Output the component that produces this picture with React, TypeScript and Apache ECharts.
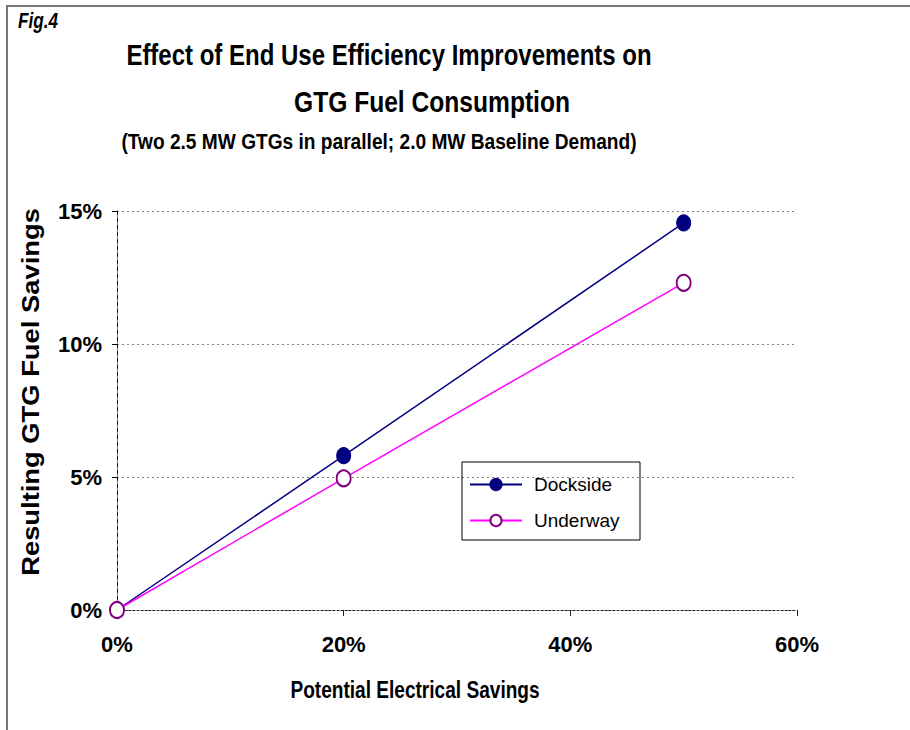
import React, { useEffect, useRef } from "react";
import * as echarts from "echarts";

const xTicks = [0, 20, 40, 60];
const yTicks = [0, 5, 10, 15];
const seriesNames = ["Dockside", "Underway"];
const xValues = [0, 20, 50];
const docksideValues = [0, 5.8, 14.55];
const underwayValues = [0, 4.95, 12.3];

const titleLine1 = "Effect of End Use Efficiency Improvements on";
const titleLine2 = "GTG Fuel Consumption";
const subtitle = "(Two 2.5 MW GTGs in parallel; 2.0 MW Baseline Demand)";
const figLabel = "Fig.4";
const xName = "Potential Electrical Savings";
const yName = "Resulting GTG Fuel Savings";

const FONT = '"Liberation Sans Narrow", "Arial Narrow", "Liberation Sans", Arial, sans-serif';

export default function App() {
  const ref = useRef<HTMLDivElement>(null);
  useEffect(() => {
    if (!ref.current) return;
    const chart = echarts.init(ref.current, null, { renderer: "svg" });
    const pts = (vals: number[]) => xValues.map((x, i) => [x, vals[i]]);
    chart.setOption({
      animation: false,
      backgroundColor: "#fff",
      textStyle: { fontFamily: FONT },
      grid: { left: 117, top: 211, right: 113, bottom: 120, containLabel: false },
      xAxis: {
        type: "value",
        min: xTicks[0],
        max: xTicks[xTicks.length - 1],
        interval: 20,
        axisLine: { show: true, lineStyle: { color: "#222", width: 1, type: [2, 2] } },
        axisTick: { show: true, length: 6, inside: false, lineStyle: { color: "#222" } },
        axisLabel: {
          margin: 23,
          fontSize: 22,
          fontWeight: "bold",
          color: "#000",
          fontFamily: FONT,
          formatter: (v: number) => `${v}%`,
        },
        splitLine: { show: false },
      },
      yAxis: [
        {
          type: "value",
          min: yTicks[0],
          max: yTicks[yTicks.length - 1],
          interval: 5,
          axisLine: { show: true, onZero: false, lineStyle: { color: "#000", width: 1 } },
          axisTick: { show: true, length: 5, lineStyle: { color: "#000" } },
          axisLabel: {
            margin: 15,
            fontSize: 22,
            fontWeight: "bold",
            color: "#000",
            fontFamily: FONT,
            formatter: (v: number) => `${v}%`,
          },
          splitLine: { show: true, lineStyle: { color: "#808080", type: [2, 3], width: 1 } },
        },
        {
          type: "value",
          position: "right",
          min: yTicks[0],
          max: yTicks[yTicks.length - 1],
          interval: 5,
          axisLine: { show: true, lineStyle: { color: "#808080", type: [3, 4], width: 1 } },
          axisTick: { show: false },
          axisLabel: { show: false },
          splitLine: { show: false },
        },
      ],
      legend: {
        show: true,
        orient: "vertical",
        left: 464,
        top: 470,
        itemWidth: 52,
        itemHeight: 14,
        itemGap: 17,
        textStyle: { fontSize: 19, color: "#000", fontFamily: FONT, padding: [0, 0, 0, 7] },
        data: seriesNames,
      },
      series: [
        {
          name: seriesNames[0],
          type: "line",
          data: pts(docksideValues),
          symbol: "circle",
          symbolSize: [14, 16],
          lineStyle: { color: "#000080", width: 1.5 },
          itemStyle: { color: "#000080", borderColor: "#000080", borderWidth: 1 },
          z: 3,
        },
        {
          name: seriesNames[1],
          type: "line",
          data: pts(underwayValues),
          symbol: "circle",
          symbolSize: [14, 16],
          lineStyle: { color: "#FF00FF", width: 1.5 },
          itemStyle: { color: "#ffffff", borderColor: "#800080", borderWidth: 2 },
          z: 4,
        },
      ],
      graphic: [
        {
          type: "rect",
          shape: { x: 7, y: 6, width: 1000, height: 1000 },
          style: { fill: "none", stroke: "#777", lineWidth: 2 },
          silent: true,
        },
        {
          type: "rect",
          shape: { x: 462, y: 462, width: 178, height: 78 },
          style: { fill: "none", stroke: "#000", lineWidth: 1 },
          silent: true,
          z: 10,
        },
        {
          type: "text",
          x: 18,
          y: 20,
          scaleX: 0.78,
          style: { text: figLabel, textVerticalAlign: "middle", font: `italic bold 22px ${FONT}`, fill: "#000" },
        },
        {
          type: "text",
          x: 389,
          y: 55,
          scaleX: 0.8,
          style: { text: titleLine1, textAlign: "center", textVerticalAlign: "middle", font: `bold 30px ${FONT}`, fill: "#000" },
        },
        {
          type: "text",
          x: 432,
          y: 102,
          scaleX: 0.82,
          style: { text: titleLine2, textAlign: "center", textVerticalAlign: "middle", font: `bold 30px ${FONT}`, fill: "#000" },
        },
        {
          type: "text",
          x: 379,
          y: 141,
          scaleX: 0.87,
          style: { text: subtitle, textAlign: "center", textVerticalAlign: "middle", font: `bold 22px ${FONT}`, fill: "#000" },
        },
        {
          type: "text",
          x: 415,
          y: 690,
          scaleX: 0.83,
          style: { text: xName, textAlign: "center", textVerticalAlign: "middle", font: `bold 23px ${FONT}`, fill: "#000" },
        },
        {
          type: "text",
          x: 31,
          y: 392,
          rotation: Math.PI / 2,
          scaleX: 1.14,
          style: { text: yName, textAlign: "center", textVerticalAlign: "middle", font: `bold 24px ${FONT}`, fill: "#000" },
        },
      ],
    });
    return () => chart.dispose();
  }, []);
  return (
    <div
      ref={ref}
      style={{ position: "fixed", left: 0, top: 0, width: 910, height: 730, background: "#fff" }}
    />
  );
}
